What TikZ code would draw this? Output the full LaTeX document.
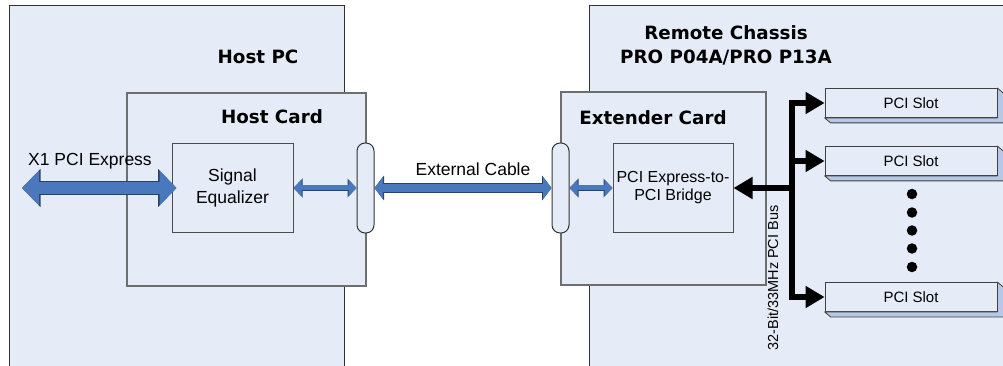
\documentclass[tikz,border=0pt]{standalone}
\usepackage{fontspec}
\setmainfont{Liberation Sans}
\newfontfamily\titlefont{DejaVu Sans}
\usetikzlibrary{arrows.meta}
\definecolor{boxfill}{HTML}{E6ECF7}
\definecolor{cardline}{HTML}{6E6E6E}
\definecolor{arrowblue}{HTML}{4A78BD}
\definecolor{arrowline}{HTML}{26436E}
\definecolor{slotside}{HTML}{B5C9E6}
\tikzset{
  bustip/.tip={Triangle[width=21pt,length=19pt]},
  outerbox/.style={draw=black!80, line width=1pt, fill=boxfill, inner sep=0pt},
  cardbox/.style={draw=cardline, line width=1.5pt, fill=boxfill, inner sep=0pt},
  chipbox/.style={draw=black!70, line width=1pt, fill=boxfill, inner sep=0pt, align=center},
  ovalbox/.style={draw=black!80, line width=1pt, fill=boxfill, inner sep=0pt,
    minimum width=17pt, minimum height=90pt, rounded corners=8pt},
  slotbox/.style={draw=black!75, line width=0.8pt, fill=boxfill, inner sep=0pt,
    minimum width=172pt, minimum height=29pt, font=\fontsize{15}{18}\selectfont},
  slotface/.style={draw=black!75, line width=0.8pt, fill=slotside, line join=round},
  title/.style={font=\titlefont\bfseries\fontsize{18.3}{24}\selectfont, align=center, inner sep=0pt},
  label/.style={font=\fontsize{17.5}{21}\selectfont, inner sep=0pt, align=center},
  bigarrow/.style={draw=arrowblue, line width=12pt,
    {Triangle[width=34pt,length=17pt]}-{Triangle[width=34pt,length=17pt]},
    preaction={draw=arrowline, line width=13.4pt,
      {Triangle[width=37pt,length=18.5pt]}-{Triangle[width=37pt,length=18.5pt]}}},
  cablearrow/.style={draw=arrowblue, line width=8pt,
    {Triangle[width=22pt,length=8.5pt]}-{Triangle[width=22pt,length=8.5pt]},
    preaction={draw=arrowline, line width=9.4pt,
      {Triangle[width=24.5pt,length=9.5pt]}-{Triangle[width=24.5pt,length=9.5pt]}}},
  smallarrow/.style={draw=arrowblue, line width=5pt,
    {Triangle[width=16pt,length=8pt]}-{Triangle[width=16pt,length=8pt]},
    preaction={draw=arrowline, line width=6.4pt,
      {Triangle[width=18.5pt,length=9pt]}-{Triangle[width=18.5pt,length=9pt]}}},
  bus/.style={draw=black, line width=6.5pt, line join=miter},
  dot/.style={circle, fill=black, inner sep=0pt, minimum size=10.5pt}
}
\begin{document}
\begin{tikzpicture}[x=1pt,y=-1pt]
\useasboundingbox (0,0) rectangle (1003,366);
\clip (0,0) rectangle (1003,366);
% Host side
\node[outerbox, minimum width=334.5pt, minimum height=394pt] (hostpc) at (176.75,203) {};
\node[title] (hostpclabel) at (258,57) {Host PC};
\node[cardbox, minimum width=239pt, minimum height=193pt] (hostcard) at (246.5,189.5) {};
\node[title] (hostcardlabel) at (272,117) {Host Card};
\node[chipbox, minimum width=121pt, minimum height=88pt, font=\fontsize{17.5}{22}\selectfont] (eq) at (232.5,188) {Signal\\Equalizer};
\node[ovalbox] (ovl) at (365.5,188) {};
% Remote side
\node[outerbox, minimum width=421pt, minimum height=394pt] (chassis) at (799.5,203) {};
\node[title] (chassislabel) at (726,45) {Remote Chassis\\PRO P04A/PRO P13A};
\node[cardbox, minimum width=205pt, minimum height=193pt] (extcard) at (663.5,188.5) {};
\node[title] (extcardlabel) at (653,118) {Extender Card};
\node[chipbox, minimum width=120pt, minimum height=88pt, font=\fontsize{16}{18}\selectfont] (bridge) at (673,188) {PCI Express-to-\\PCI Bridge};
\node[ovalbox] (ovr) at (560.5,188) {};
% PCI slots
\foreach \n/\y in {s1/103, s2/161, s3/297}{
  \node[slotbox] (\n) at (911,\y) {PCI Slot};
  \draw[slotface] (\n.south west) -- ++(6,5) -- ([shift={(6,5)}]\n.south east) -- ([shift={(6,5)}]\n.north east) -- (\n.north east) -- (\n.south east) -- cycle;
}
\foreach \i/\y in {1/194, 2/212.5, 3/230.5, 4/248.5, 5/267}{
  \node[dot] (d\i) at (912,\y) {};
}
% blue connectors
\coordinate (x1end) at (22,188);
\draw[bigarrow] (x1end) -- ([xshift=5pt]eq.west);
\node[label] (x1label) at (90,161) {X1 PCI Express};
\draw[smallarrow] (eq.east) -- (ovl.west);
\draw[cablearrow] (ovl.east) -- (ovr.west);
\node[label] (cablelabel) at (473,169) {External Cable};
\draw[smallarrow] (ovr.east) -- (bridge.west);
% PCI bus
\coordinate (bt) at (792,103);
\coordinate (bb) at (792,297);
\draw[bus, bustip-bustip] (s1.west) -- (bt) -- (bb) -- (s3.west);
\draw[bus, -bustip] (bt |- s2.west) -- (s2.west);
\draw[bus, -bustip] (bt |- bridge.east) -- (bridge.east);
\node[rotate=90, inner sep=0pt, font=\fontsize{14.5}{17}\selectfont] (buslabel) at (773,278) {32-Bit/33MHz PCI Bus};
\end{tikzpicture}
\end{document}
